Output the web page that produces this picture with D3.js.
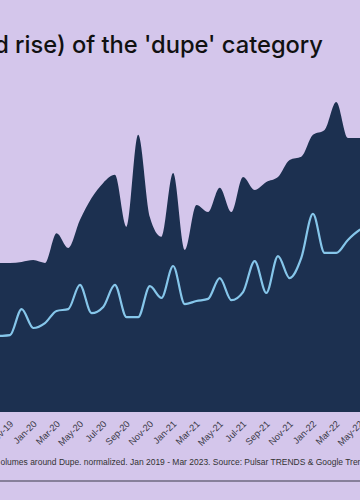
<!DOCTYPE html>
<html>
<head>
<meta charset="utf-8">
<script src="https://cdn.jsdelivr.net/npm/d3@7"></script>
<style>
  html, body { margin: 0; padding: 0; background: #d4c6eb; }
  svg { display: block; }
</style>
</head>
<body>
<svg id="chart" width="360" height="500"></svg>
<script>
// ---- data (visible window of the chart) ----
const months = ["Sep-19","Oct-19","Nov-19","Dec-19","Jan-20","Feb-20","Mar-20","Apr-20","May-20","Jun-20",
  "Jul-20","Aug-20","Sep-20","Oct-20","Nov-20","Dec-20","Jan-21","Feb-21","Mar-21","Apr-21",
  "May-21","Jun-21","Jul-21","Aug-21","Sep-21","Oct-21","Nov-21","Dec-21","Jan-22","Feb-22",
  "Mar-22","Apr-22","May-22","Jun-22"];
const areaSeries = [48.1,48.1,48.1,48.4,49.0,48.1,57.7,52.9,61.9,69.0,
  73.9,76.5,59.7,89.4,62.9,56.5,77.1,52.3,66.8,64.5,
  72.3,64.5,75.8,71.6,74.2,75.8,81.3,82.3,89.4,91.0,
  100,88.4,88.4,88.4];
const lineSeries = [24.2,24.5,24.8,33.2,27.1,28.7,32.6,33.2,41.0,31.9,
  33.9,41.0,30.6,30.6,40.6,36.8,47.1,34.8,35.8,36.5,
  43.2,36.1,38.7,48.7,38.4,50.3,43.2,49.7,63.9,51.3,
  51.3,55.5,58.7,60.3];
const tickLabels = months.filter((d, i) => i % 2 === 0);
const titleText = "d rise) of the 'dupe' category";
const footerText = "olumes around Dupe. normalized. Jan 2019 - Mar 2023. Source: Pulsar TRENDS & Google Trends";

// ---- layout ----
const svg = d3.select("#chart");
const W = 360, H = 500;
const bg = "#d4c6eb", navy = "#1c3050", lineCol = "#86c6ea";

svg.append("rect").attr("width", W).attr("height", H).attr("fill", bg);

const x = d3.scalePoint().domain(months).range([-13.3, 371.2]);
const y = d3.scaleLinear().domain([0, 100]).range([412, 102]);

const area = d3.area()
  .x((d, i) => x(months[i]))
  .y0(y(0))
  .y1(d => y(d))
  .curve(d3.curveMonotoneX);

const line = d3.line()
  .x((d, i) => x(months[i]))
  .y(d => y(d))
  .curve(d3.curveMonotoneX);

svg.append("path").datum(areaSeries).attr("d", area).attr("fill", navy);
svg.append("path").datum(lineSeries).attr("d", line)
  .attr("fill", "none").attr("stroke", lineCol).attr("stroke-width", 2.2)
  .attr("stroke-linejoin", "round");

// x axis
const axis = svg.append("g").attr("transform", `translate(0,${y(0)})`)
  .call(d3.axisBottom(x).tickValues(tickLabels).tickSize(0).tickPadding(0));
axis.select(".domain").remove();
axis.selectAll("text")
  .attr("fill", "#3b3a48")
  .attr("font-family", "Liberation Sans, Arial, sans-serif")
  .attr("font-size", 9.3)
  .attr("text-anchor", "end")
  .attr("dy", 0)
  .attr("y", 0)
  .attr("transform", "translate(3.5,12.5) rotate(-45)");

// title
const title = svg.append("text")
  .attr("x", 323).attr("y", 53)
  .attr("text-anchor", "end")
  .attr("font-family", "Inter, 'Noto Sans', sans-serif")
  .attr("font-weight", 500)
  .attr("font-size", 20)
  .attr("fill", "#111")
  .text(titleText);
{
  const w = title.node().getComputedTextLength();
  title.attr("font-size", 20 * 329 / w);
}

// footer
const footer = svg.append("text")
  .attr("x", 0.5).attr("y", 465)
  .attr("font-family", "Liberation Sans, Arial, sans-serif")
  .attr("font-size", 10)
  .attr("fill", "#333")
  .text(footerText);
{
  // size so that the text runs off the right edge at "Tren" as in the reference
  const probe = svg.append("text")
    .attr("font-family", "Liberation Sans, Arial, sans-serif")
    .attr("font-size", 10)
    .text("olumes around Dupe. normalized. Jan 2019 - Mar 2023. Source: Pulsar TRENDS & Google Tren");
  const w = probe.node().getComputedTextLength();
  probe.remove();
  footer.attr("font-size", 10 * 362 / w);
}

svg.append("line").attr("x1", 0).attr("x2", W).attr("y1", 481).attr("y2", 481)
  .attr("stroke", "#3a3a4a").attr("stroke-width", 1.2);
</script>
</body>
</html>
